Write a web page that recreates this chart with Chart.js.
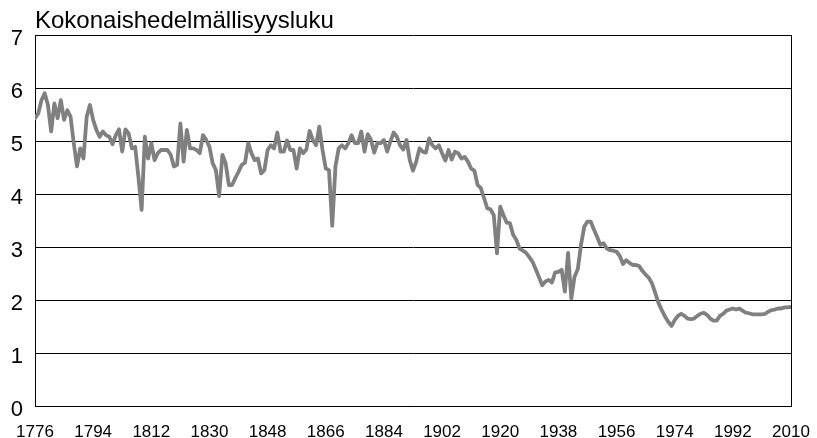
<!DOCTYPE html>
<html>
<head>
<meta charset="utf-8">
<script src="https://cdn.jsdelivr.net/npm/chart.js@4"></script>
<style>
  html, body { margin: 0; padding: 0; background: #fff; }
</style>
</head>
<body>
<canvas id="kuvio" width="817" height="438"></canvas>
<script>
const otsikko = 'Kokonaishedelmällisyysluku';
const alkuvuosi = 1776;
const vuosiTikit = [1776, 1794, 1812, 1830, 1848, 1866, 1884, 1902, 1920, 1938, 1956, 1974, 1992, 2010];

// kokonaishedelmällisyysluku vuosittain, luettu kuvasta
const tfr1776 = [5.43, 5.52, 5.77, 5.90, 5.68, 5.18, 5.71, 5.43, 5.77, 5.40,
  5.58, 5.46, 4.96, 4.52, 4.86, 4.67, 5.46, 5.68, 5.40, 5.21,
  5.08, 5.18, 5.11, 5.08, 4.94, 5.11, 5.22, 4.80, 5.22, 5.14,
  4.86, 4.89, 4.33, 3.70, 5.08, 4.67, 4.96, 4.64, 4.77, 4.83,
  4.83, 4.83, 4.74, 4.52, 4.55, 5.33, 4.61, 5.21];
const tfr1824 = [4.86, 4.86, 4.83, 4.77, 5.11, 5.02, 4.89, 4.58, 4.45, 3.96,
  4.74, 4.58, 4.17, 4.17, 4.30, 4.42, 4.55, 4.59, 4.96, 4.77,
  4.64, 4.67, 4.39, 4.45, 4.83, 4.92, 4.86, 5.16, 4.80, 4.80,
  5.01, 4.83, 4.83, 4.48, 4.86, 4.77, 4.84, 5.19, 5.02, 4.92,
  5.27, 4.83, 4.48, 4.45, 3.40, 4.52, 4.86];
const tfr1871 = [4.92, 4.86, 4.96, 5.11, 4.96, 4.96, 5.18, 4.80, 5.13, 5.02,
  4.78, 4.97, 4.96, 5.02, 4.80, 4.99, 5.16, 5.08, 4.92, 4.84,
  5.02, 4.64, 4.44, 4.61, 4.86, 4.80, 4.78, 5.05, 4.92, 4.86,
  4.92, 4.77, 4.63, 4.83, 4.65, 4.80, 4.77, 4.67, 4.70, 4.61,
  4.48, 4.44, 4.17, 4.11, 3.92, 3.73, 3.71, 3.60];
const tfr1919 = [2.88, 3.76, 3.60, 3.46, 3.45, 3.23, 3.13, 2.97, 2.93, 2.89,
  2.81, 2.72, 2.58, 2.43, 2.28, 2.35, 2.38, 2.33, 2.52, 2.53,
  2.57, 2.16, 2.89, 2.03, 2.44, 2.58, 3.04, 3.38, 3.48, 3.48,
  3.33, 3.19, 3.04, 3.07, 2.97, 2.94, 2.93, 2.91, 2.83, 2.68,
  2.75, 2.70, 2.66, 2.66, 2.64, 2.55];
const tfr1965 = [2.48, 2.42, 2.31, 2.13, 1.94, 1.81, 1.69, 1.59, 1.51, 1.62,
  1.70, 1.74, 1.70, 1.65, 1.64, 1.65, 1.70, 1.74, 1.76, 1.72,
  1.65, 1.61, 1.61, 1.70, 1.74, 1.80, 1.82, 1.84, 1.82, 1.84,
  1.80, 1.76, 1.75, 1.73, 1.73, 1.73, 1.73, 1.74, 1.78, 1.81,
  1.82, 1.84, 1.84, 1.86, 1.86, 1.87];

const arvot = [...tfr1776, ...tfr1824, ...tfr1871, ...tfr1919, ...tfr1965];
const pisteet = arvot.map((v, i) => ({ x: alkuvuosi + i, y: v }));

const fontti = '"Liberation Sans", Arial, sans-serif';

const otsikkoPlugin = {
  id: 'otsikko',
  afterDraw(chart) {
    const ctx = chart.ctx;
    ctx.save();
    ctx.font = '24px ' + fontti;
    ctx.fillStyle = '#000';
    ctx.textAlign = 'left';
    ctx.textBaseline = 'alphabetic';
    ctx.fillText(otsikko, chart.chartArea.left, 28);
    ctx.restore();
  }
};

new Chart(document.getElementById('kuvio'), {
  type: 'line',
  data: {
    datasets: [{
      label: otsikko,
      data: pisteet,
      borderColor: '#808080',
      borderWidth: 3.8,
      borderJoinStyle: 'round',
      borderCapStyle: 'round',
      pointRadius: 0,
      tension: 0,
      fill: false
    }]
  },
  options: {
    responsive: false,
    animation: false,
    devicePixelRatio: 1,
    layout: { padding: { top: 35, right: 26, bottom: 0, left: 0 } },
    plugins: {
      legend: { display: false },
      tooltip: { enabled: false }
    },
    scales: {
      x: {
        type: 'linear',
        min: 1776,
        max: 2010,
        afterBuildTicks: s => { s.ticks = vuosiTikit.map(v => ({ value: v })); },
        afterFit: s => { s.height = 32; s.paddingLeft = 0; s.paddingRight = 0; },
        ticks: {
          color: '#000',
          font: { family: fontti, size: 17 },
          padding: 16,
          maxRotation: 0,
          autoSkip: false,
          callback: v => String(v)
        },
        grid: {
          drawTicks: false,
          color: c => (c.tick && (c.tick.value === 1776 || c.tick.value === 2010)) ? '#000' : 'rgba(0,0,0,0)',
          lineWidth: 1
        },
        border: { display: true, color: '#000', width: 1 }
      },
      y: {
        min: 0,
        max: 7,
        afterFit: s => { s.width = 35; s.paddingTop = 0; s.paddingBottom = 0; },
        ticks: {
          stepSize: 1,
          color: '#000',
          font: { family: fontti, size: 22 },
          padding: 12,
          labelOffset: 4
        },
        grid: { drawTicks: false, color: '#000', lineWidth: 1 },
        border: { display: true, color: '#000', width: 1 }
      }
    }
  },
  plugins: [otsikkoPlugin]
});
</script>
</body>
</html>
